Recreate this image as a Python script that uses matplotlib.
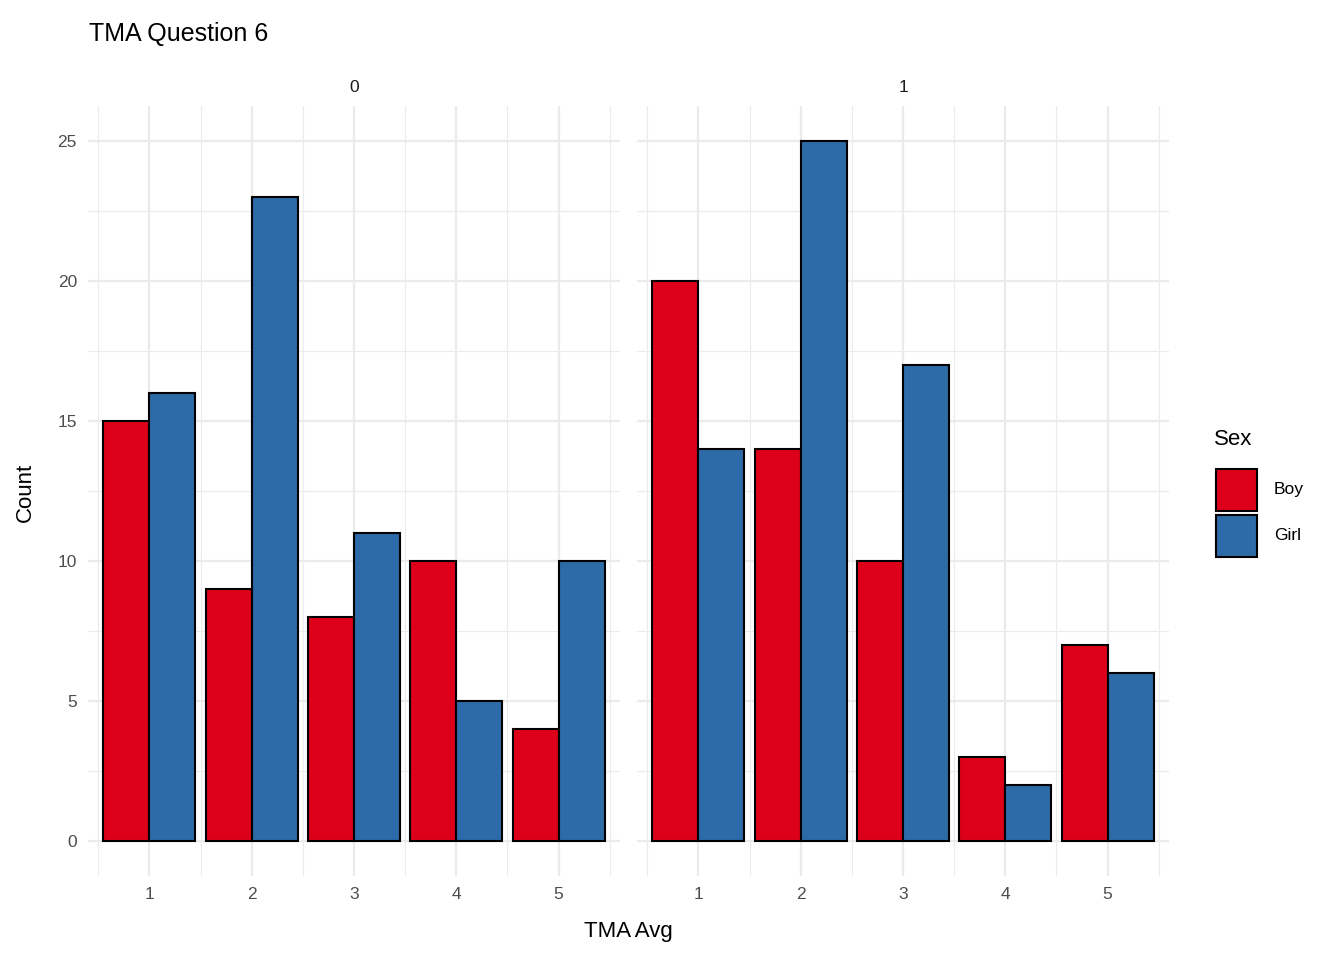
import matplotlib
matplotlib.use('Agg')
import matplotlib.pyplot as plt
import numpy as np

cats = [1, 2, 3, 4, 5]
panels = ['0', '1']
boy = {'0': [15, 9, 8, 10, 4], '1': [20, 14, 10, 3, 7]}
girl = {'0': [16, 23, 11, 5, 10], '1': [14, 25, 17, 2, 6]}
red = '#DC001A'
blue = '#2C6AA8'

plt.rcParams['font.family'] = ['Liberation Sans', 'DejaVu Sans']
fig = plt.figure(figsize=(13.44, 9.6), dpi=100)
lefts = [88/1344, 637/1344]
w = 532/1344
b = 1 - 876/960
h = (876-106)/960
for i, p in enumerate(panels):
    ax = fig.add_axes([lefts[i], b, w, h])
    x = np.array(cats)
    ax.bar(x-0.225, boy[p], width=0.45, color=red, edgecolor='black', linewidth=1.5, zorder=3)
    ax.bar(x+0.225, girl[p], width=0.45, color=blue, edgecolor='black', linewidth=1.5, zorder=3)
    ax.set_xlim(0.4, 5.6)
    ax.set_ylim(-1.25, 26.25)
    ax.set_xticks(cats)
    ax.set_xticks(np.arange(0.5, 6, 1), minor=True)
    ax.set_yticks([0, 5, 10, 15, 20, 25])
    ax.set_yticks(np.arange(2.5, 26, 5), minor=True)
    ax.grid(which='major', color='#EBEBEB', linewidth=1.6, zorder=0)
    ax.grid(which='minor', color='#EBEBEB', linewidth=0.8, zorder=0)
    for s in ax.spines.values():
        s.set_visible(False)
    ax.tick_params(which='both', length=0, labelsize=12.5, colors='#4D4D4D', pad=8)
    if i == 1:
        ax.set_yticklabels([])
    ax.set_title(p, fontsize=12.5, color='#1A1A1A', pad=10)
fig.text(0.066, 0.965, 'TMA Question 6', fontsize=18, va='center')
fig.text((88+1168)/2/1344, 1-931/960, 'TMA Avg', fontsize=16, ha='center', va='center')
fig.text(25/1344, 1-492/960, 'Count', fontsize=16, rotation=90, ha='center', va='center')
fig.text(1214/1344, 1-440/960, 'Sex', fontsize=16, va='center')
for j, (lab, c) in enumerate([('Boy', red), ('Girl', blue)]):
    yc = 490 + j*46
    fig.patches.append(plt.Rectangle((1216/1344, 1-(yc+21)/960), 41/1344, 42/960, transform=fig.transFigure,
                                     facecolor=c, edgecolor='black', linewidth=1.5))
    fig.text(1274/1344, 1-yc/960, lab, fontsize=12.5, va='center')
fig.savefig('out.png', dpi=100)
